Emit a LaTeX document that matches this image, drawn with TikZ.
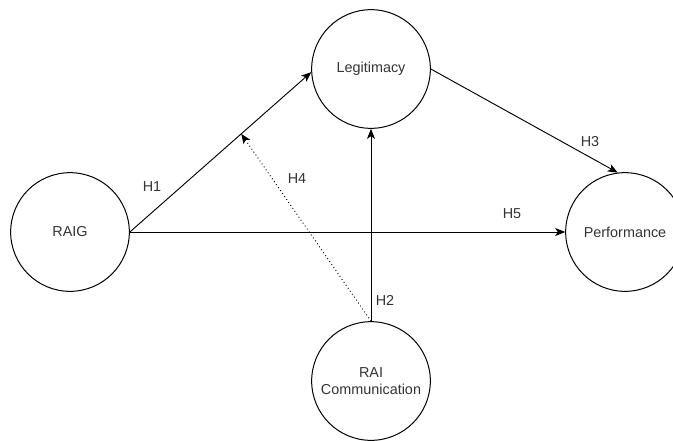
\documentclass[tikz,border=0pt]{standalone}
\usepackage{fontspec}
\setmainfont{Liberation Sans}
\usetikzlibrary{arrows.meta,calc}
\definecolor{txt}{HTML}{333333}
\begin{document}
\begin{tikzpicture}[x=0.75pt,y=-0.75pt,
  construct/.style={circle,draw,line width=0.75pt,minimum size=89pt,inner sep=0pt,
    align=center,text=txt,font=\fontsize{10.8}{13}\selectfont},
  link/.style={line width=0.7pt,-{Stealth[length=7.5pt,width=6pt,inset=2pt]}},
  hyp/.style={text=txt,font=\fontsize{10.8}{13}\selectfont}]
  \useasboundingbox (0,0) rectangle (673,440);
  \clip (0,0) rectangle (673,440);

  % constructs
  \node[construct] (raig)  at (70,232)  {RAIG};
  \node[construct] (legit) at (371,69)  {Legitimacy};
  \node[construct] (perf)  at (625,232) {Performance};
  \node[construct] (rai)   at (371,381) {RAI\\Communication};

  % hypothesised paths
  \draw[link] (raig.east) -- (legit.183);
  \draw[link] (raig.east) -- (perf.west);
  \draw[link] (legit.east) -- (perf.97);
  \draw[link] (rai.north) -- (legit.south);

  % moderation of H1
  \coordinate (mod) at ($(raig.east)!0.614!(legit.183)$);
  \draw[line width=0.7pt,dotted,-{Stealth[length=7.5pt,width=6pt,inset=2pt]}] (rai.north) -- (mod);

  % labels
  \node[hyp] (h1) at (152,187) {H1};
  \node[hyp] (h2) at (385,300) {H2};
  \node[hyp] (h3) at (590,142) {H3};
  \node[hyp] (h4) at (297,179) {H4};
  \node[hyp] (h5) at (512,214) {H5};
\end{tikzpicture}
\end{document}
